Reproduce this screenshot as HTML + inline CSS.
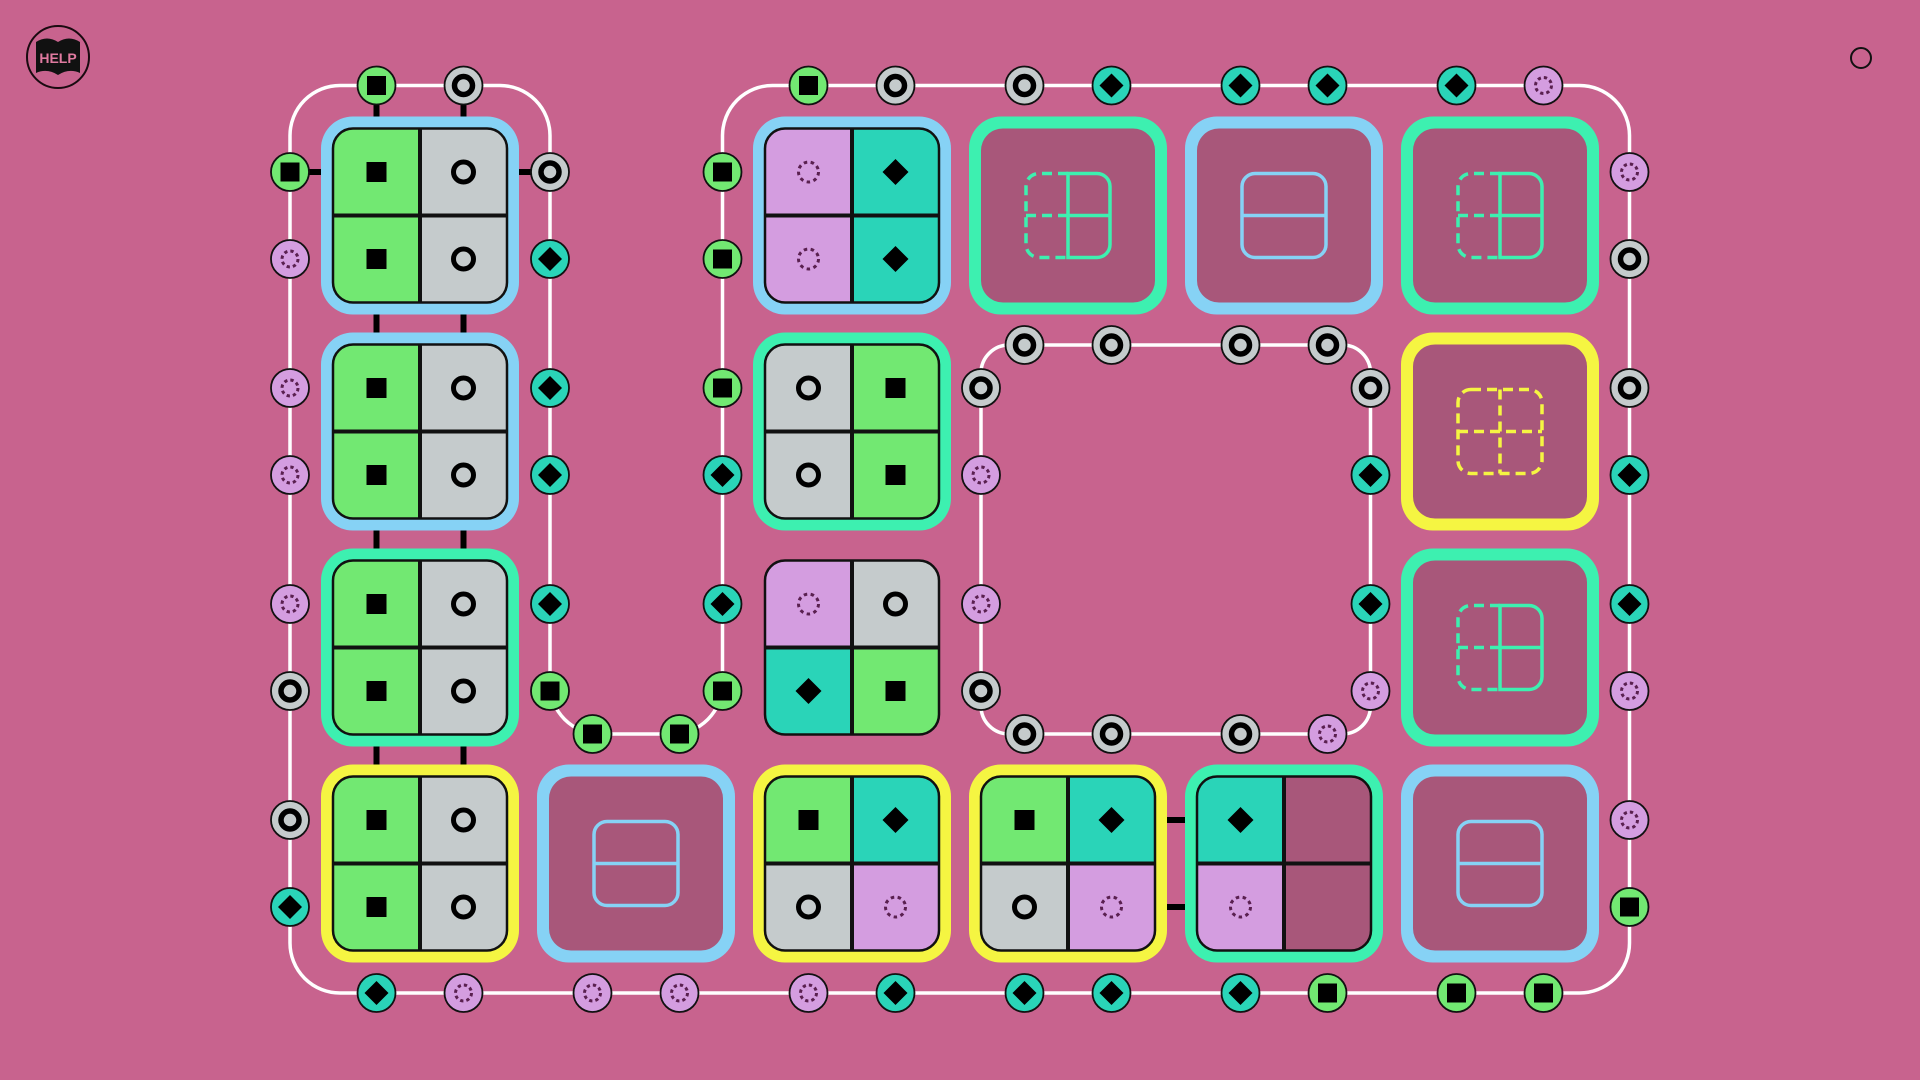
<!DOCTYPE html>
<html><head><meta charset="utf-8"><style>
html,body{margin:0;padding:0;background:#c8638e;width:1920px;height:1080px;overflow:hidden}
svg{display:block}
</style></head><body>
<svg width="1920" height="1080" viewBox="0 0 1920 1080" xmlns="http://www.w3.org/2000/svg">
<defs>
<clipPath id="qc"><rect x="-87" y="-87" width="174" height="174" rx="20"/></clipPath>
<g id="nS"><circle r="19" fill="#72e872" stroke="#111" stroke-width="1.8"/><rect x="-9.5" y="-9.5" width="19" height="19" fill="#000"/></g>
<g id="nO"><circle r="19" fill="#c5cbcc" stroke="#111" stroke-width="1.8"/><circle r="9" fill="none" stroke="#000" stroke-width="5.5"/></g>
<g id="nD"><circle r="19" fill="#2ad4b8" stroke="#111" stroke-width="1.8"/><path d="M0-12L12 0L0 12L-12 0Z" fill="#000"/></g>
<g id="nP"><circle r="19" fill="#d49de0" stroke="#111" stroke-width="1.8"/><circle r="8" fill="none" stroke="#5a2050" stroke-width="3" stroke-dasharray="3.3 3"/></g>
<rect id="gS" x="-10" y="-10" width="20" height="20" fill="#000"/>
<circle id="gO" r="10" fill="none" stroke="#000" stroke-width="5"/>
<path id="gD" d="M0-13L13 0L0 13L-13 0Z" fill="#000"/>
<circle id="gP" r="10" fill="none" stroke="#5a2050" stroke-width="3" stroke-dasharray="3.5 3.5"/>
<g id="grid"><path d="M0-87V87M-87 0H87" stroke="#111" stroke-width="4"/><rect x="-87" y="-87" width="174" height="174" rx="20" fill="none" stroke="#111" stroke-width="2.5"/></g>
<g id="icB"><rect x="-42" y="-42" width="84" height="84" rx="13" fill="none" stroke="#86d2f5" stroke-width="3.5"/><path d="M-42 0H42" stroke="#86d2f5" stroke-width="3.5"/></g>
<g id="icG" fill="none" stroke="#3df0b0" stroke-width="3.5"><path d="M0-42H29A13 13 0 0 1 42-29V29A13 13 0 0 1 29 42H0ZM0 0H42"/><path d="M0-42H-29A13 13 0 0 0 -42-29V29A13 13 0 0 0 -29 42H0M-42 0H0" stroke-dasharray="10 6"/></g>
<g id="icY" fill="none" stroke="#f5f542" stroke-width="3.5" stroke-dasharray="10 6"><rect x="-42" y="-42" width="84" height="84" rx="13"/><path d="M0-42V42M-42 0H42"/></g>
</defs>

<!-- help -->
<circle cx="58" cy="57" r="31" fill="none" stroke="#1a0a10" stroke-width="2"/>
<path d="M36 42Q47 35 58 42Q69 35 80 42L80 73Q69 68 58 75Q47 68 36 73Z" fill="#111"/>
<text x="58" y="63" text-anchor="middle" font-family="Liberation Sans, sans-serif" font-weight="bold" font-size="14" fill="#e07aa0">HELP</text>
<circle cx="1861" cy="58" r="10" fill="none" stroke="#111" stroke-width="2"/>

<!-- loops -->
<path d="M290,135.5 A50 50 0 0 1 340,85.5 H500 A50 50 0 0 1 550,135.5 V684 A50 50 0 0 0 600,734 H672.5 A50 50 0 0 0 722.5,684 V135.5 A50 50 0 0 1 772.5,85.5 H1579.5 A50 50 0 0 1 1629.5,135.5 V943 A50 50 0 0 1 1579.5,993 H340 A50 50 0 0 1 290,943 Z" fill="none" stroke="#fff" stroke-width="3.5"/>
<rect x="981" y="345" width="389.5" height="389" rx="28" fill="none" stroke="#fff" stroke-width="3.5"/>

<!-- connectors -->
<g stroke="#000" stroke-width="6">
<path d="M376.5 85.5V863.5M463.5 85.5V863.5M290 172H550M1068 820H1284M1068 907H1284"/>
</g>

<!-- tiles -->
<!-- col1 -->
<g transform="translate(420,215.5)"><rect x="-99" y="-99" width="198" height="198" rx="32" fill="#86d2f5"/><g clip-path="url(#qc)"><rect x="-87" y="-87" width="87" height="174" fill="#72e872"/><rect x="0" y="-87" width="87" height="174" fill="#c5cbcc"/></g><use href="#grid"/><use href="#gS" x="-43.5" y="-43.5"/><use href="#gO" x="43.5" y="-43.5"/><use href="#gS" x="-43.5" y="43.5"/><use href="#gO" x="43.5" y="43.5"/></g>
<g transform="translate(420,431.5)"><rect x="-99" y="-99" width="198" height="198" rx="32" fill="#86d2f5"/><g clip-path="url(#qc)"><rect x="-87" y="-87" width="87" height="174" fill="#72e872"/><rect x="0" y="-87" width="87" height="174" fill="#c5cbcc"/></g><use href="#grid"/><use href="#gS" x="-43.5" y="-43.5"/><use href="#gO" x="43.5" y="-43.5"/><use href="#gS" x="-43.5" y="43.5"/><use href="#gO" x="43.5" y="43.5"/></g>
<g transform="translate(420,647.5)"><rect x="-99" y="-99" width="198" height="198" rx="32" fill="#3df0b0"/><g clip-path="url(#qc)"><rect x="-87" y="-87" width="87" height="174" fill="#72e872"/><rect x="0" y="-87" width="87" height="174" fill="#c5cbcc"/></g><use href="#grid"/><use href="#gS" x="-43.5" y="-43.5"/><use href="#gO" x="43.5" y="-43.5"/><use href="#gS" x="-43.5" y="43.5"/><use href="#gO" x="43.5" y="43.5"/></g>
<g transform="translate(420,863.5)"><rect x="-99" y="-99" width="198" height="198" rx="32" fill="#f5f542"/><g clip-path="url(#qc)"><rect x="-87" y="-87" width="87" height="174" fill="#72e872"/><rect x="0" y="-87" width="87" height="174" fill="#c5cbcc"/></g><use href="#grid"/><use href="#gS" x="-43.5" y="-43.5"/><use href="#gO" x="43.5" y="-43.5"/><use href="#gS" x="-43.5" y="43.5"/><use href="#gO" x="43.5" y="43.5"/></g>
<!-- col2 r4 -->
<g transform="translate(636,863.5)"><rect x="-99" y="-99" width="198" height="198" rx="32" fill="#86d2f5"/><rect x="-87" y="-87" width="174" height="174" rx="22" fill="#a8577a"/><use href="#icB"/></g>
<!-- col3 -->
<g transform="translate(852,215.5)"><rect x="-99" y="-99" width="198" height="198" rx="32" fill="#86d2f5"/><g clip-path="url(#qc)"><rect x="-87" y="-87" width="87" height="174" fill="#d49de0"/><rect x="0" y="-87" width="87" height="174" fill="#2ad4b8"/></g><use href="#grid"/><use href="#gP" x="-43.5" y="-43.5"/><use href="#gD" x="43.5" y="-43.5"/><use href="#gP" x="-43.5" y="43.5"/><use href="#gD" x="43.5" y="43.5"/></g>
<g transform="translate(852,431.5)"><rect x="-99" y="-99" width="198" height="198" rx="32" fill="#3df0b0"/><g clip-path="url(#qc)"><rect x="-87" y="-87" width="87" height="174" fill="#c5cbcc"/><rect x="0" y="-87" width="87" height="174" fill="#72e872"/></g><use href="#grid"/><use href="#gO" x="-43.5" y="-43.5"/><use href="#gS" x="43.5" y="-43.5"/><use href="#gO" x="-43.5" y="43.5"/><use href="#gS" x="43.5" y="43.5"/></g>
<g transform="translate(852,647.5)"><g clip-path="url(#qc)"><rect x="-87" y="-87" width="87" height="87" fill="#d49de0"/><rect x="0" y="-87" width="87" height="87" fill="#c5cbcc"/><rect x="-87" y="0" width="87" height="87" fill="#2ad4b8"/><rect x="0" y="0" width="87" height="87" fill="#72e872"/></g><use href="#grid"/><use href="#gP" x="-43.5" y="-43.5"/><use href="#gO" x="43.5" y="-43.5"/><use href="#gD" x="-43.5" y="43.5"/><use href="#gS" x="43.5" y="43.5"/></g>
<g transform="translate(852,863.5)"><rect x="-99" y="-99" width="198" height="198" rx="32" fill="#f5f542"/><g clip-path="url(#qc)"><rect x="-87" y="-87" width="87" height="87" fill="#72e872"/><rect x="0" y="-87" width="87" height="87" fill="#2ad4b8"/><rect x="-87" y="0" width="87" height="87" fill="#c5cbcc"/><rect x="0" y="0" width="87" height="87" fill="#d49de0"/></g><use href="#grid"/><use href="#gS" x="-43.5" y="-43.5"/><use href="#gD" x="43.5" y="-43.5"/><use href="#gO" x="-43.5" y="43.5"/><use href="#gP" x="43.5" y="43.5"/></g>
<!-- col4 -->
<g transform="translate(1068,215.5)"><rect x="-99" y="-99" width="198" height="198" rx="32" fill="#3df0b0"/><rect x="-87" y="-87" width="174" height="174" rx="22" fill="#a8577a"/><use href="#icG"/></g>
<g transform="translate(1068,863.5)"><rect x="-99" y="-99" width="198" height="198" rx="32" fill="#f5f542"/><g clip-path="url(#qc)"><rect x="-87" y="-87" width="87" height="87" fill="#72e872"/><rect x="0" y="-87" width="87" height="87" fill="#2ad4b8"/><rect x="-87" y="0" width="87" height="87" fill="#c5cbcc"/><rect x="0" y="0" width="87" height="87" fill="#d49de0"/></g><use href="#grid"/><use href="#gS" x="-43.5" y="-43.5"/><use href="#gD" x="43.5" y="-43.5"/><use href="#gO" x="-43.5" y="43.5"/><use href="#gP" x="43.5" y="43.5"/></g>
<!-- col5 -->
<g transform="translate(1284,215.5)"><rect x="-99" y="-99" width="198" height="198" rx="32" fill="#86d2f5"/><rect x="-87" y="-87" width="174" height="174" rx="22" fill="#a8577a"/><use href="#icB"/></g>
<g transform="translate(1284,863.5)"><rect x="-99" y="-99" width="198" height="198" rx="32" fill="#3df0b0"/><g clip-path="url(#qc)"><rect x="-87" y="-87" width="87" height="87" fill="#2ad4b8"/><rect x="0" y="-87" width="87" height="174" fill="#a8577a"/><rect x="-87" y="0" width="87" height="87" fill="#d49de0"/></g><use href="#grid"/><use href="#gD" x="-43.5" y="-43.5"/><use href="#gP" x="-43.5" y="43.5"/></g>
<!-- col6 -->
<g transform="translate(1500,215.5)"><rect x="-99" y="-99" width="198" height="198" rx="32" fill="#3df0b0"/><rect x="-87" y="-87" width="174" height="174" rx="22" fill="#a8577a"/><use href="#icG"/></g>
<g transform="translate(1500,431.5)"><rect x="-99" y="-99" width="198" height="198" rx="32" fill="#f5f542"/><rect x="-87" y="-87" width="174" height="174" rx="22" fill="#a8577a"/><use href="#icY"/></g>
<g transform="translate(1500,647.5)"><rect x="-99" y="-99" width="198" height="198" rx="32" fill="#3df0b0"/><rect x="-87" y="-87" width="174" height="174" rx="22" fill="#a8577a"/><use href="#icG"/></g>
<g transform="translate(1500,863.5)"><rect x="-99" y="-99" width="198" height="198" rx="32" fill="#86d2f5"/><rect x="-87" y="-87" width="174" height="174" rx="22" fill="#a8577a"/><use href="#icB"/></g>

<!-- nodes -->
<!-- top -->
<use href="#nS" x="376.5" y="85.5"/><use href="#nO" x="463.5" y="85.5"/><use href="#nS" x="808.5" y="85.5"/><use href="#nO" x="895.5" y="85.5"/><use href="#nO" x="1024.5" y="85.5"/><use href="#nD" x="1111.5" y="85.5"/><use href="#nD" x="1240.5" y="85.5"/><use href="#nD" x="1327.5" y="85.5"/><use href="#nD" x="1456.5" y="85.5"/><use href="#nP" x="1543.5" y="85.5"/>
<!-- left -->
<use href="#nS" x="290" y="172"/><use href="#nP" x="290" y="259"/><use href="#nP" x="290" y="388"/><use href="#nP" x="290" y="475"/><use href="#nP" x="290" y="604"/><use href="#nO" x="290" y="691"/><use href="#nO" x="290" y="820"/><use href="#nD" x="290" y="907"/>
<!-- x550 -->
<use href="#nO" x="550" y="172"/><use href="#nD" x="550" y="259"/><use href="#nD" x="550" y="388"/><use href="#nD" x="550" y="475"/><use href="#nD" x="550" y="604"/><use href="#nS" x="550" y="691"/>
<use href="#nS" x="592.5" y="734"/><use href="#nS" x="679.5" y="734"/>
<!-- x722.5 -->
<use href="#nS" x="722.5" y="172"/><use href="#nS" x="722.5" y="259"/><use href="#nS" x="722.5" y="388"/><use href="#nD" x="722.5" y="475"/><use href="#nD" x="722.5" y="604"/><use href="#nS" x="722.5" y="691"/>
<!-- right -->
<use href="#nP" x="1629.5" y="172"/><use href="#nO" x="1629.5" y="259"/><use href="#nO" x="1629.5" y="388"/><use href="#nD" x="1629.5" y="475"/><use href="#nD" x="1629.5" y="604"/><use href="#nP" x="1629.5" y="691"/><use href="#nP" x="1629.5" y="820"/><use href="#nS" x="1629.5" y="907"/>
<!-- bottom -->
<use href="#nD" x="376.5" y="993"/><use href="#nP" x="463.5" y="993"/><use href="#nP" x="592.5" y="993"/><use href="#nP" x="679.5" y="993"/><use href="#nP" x="808.5" y="993"/><use href="#nD" x="895.5" y="993"/><use href="#nD" x="1024.5" y="993"/><use href="#nD" x="1111.5" y="993"/><use href="#nD" x="1240.5" y="993"/><use href="#nS" x="1327.5" y="993"/><use href="#nS" x="1456.5" y="993"/><use href="#nS" x="1543.5" y="993"/>
<!-- inner -->
<use href="#nO" x="1024.5" y="345"/><use href="#nO" x="1111.5" y="345"/><use href="#nO" x="1240.5" y="345"/><use href="#nO" x="1327.5" y="345"/>
<use href="#nO" x="981" y="388"/><use href="#nP" x="981" y="475"/><use href="#nP" x="981" y="604"/><use href="#nO" x="981" y="691"/>
<use href="#nO" x="1370.5" y="388"/><use href="#nD" x="1370.5" y="475"/><use href="#nD" x="1370.5" y="604"/><use href="#nP" x="1370.5" y="691"/>
<use href="#nO" x="1024.5" y="734"/><use href="#nO" x="1111.5" y="734"/><use href="#nO" x="1240.5" y="734"/><use href="#nP" x="1327.5" y="734"/>
</svg>
</body></html>
